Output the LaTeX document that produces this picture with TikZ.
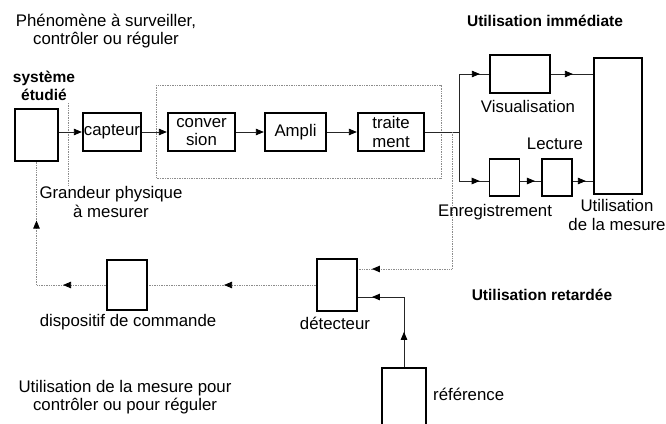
\documentclass[tikz,border=0pt]{standalone}
\usepackage{fontspec}
\setmainfont{Liberation Sans}
\usetikzlibrary{arrows.meta,decorations.markings}
\tikzset{
  >={Triangle[length=8pt,width=6.5pt,color=black]},
  box/.style={draw, line width=2.3pt, inner sep=0pt, align=center},
  tbox/.style={draw, line width=1.6pt, inner sep=0pt},
  lbl/.style={align=center, inner sep=0pt},
  bfl/.style={font=\fontsize{15.5}{18}\selectfont\bfseries},
  conn/.style={line width=0.8pt, draw=black!85},
  dotl/.style={line width=0.8pt, draw=black!45, dash pattern=on 0.8pt off 0.9pt},
  tipat/.style={postaction={decorate}, decoration={markings, mark=at position #1 with {\arrow{>}}}},
  every node/.style={font=\fontsize{16.8}{18.5}\selectfont}
}
\begin{document}
\begin{tikzpicture}[x=1pt,y=-1pt]
\useasboundingbox (0,0) rectangle (666,423);
\clip (0,0) rectangle (666,423);
\fill[white] (0,0) rectangle (666,423);

% boxes
\node[box, minimum width=43pt, minimum height=52pt] (sys) at (36.5,135) {};
\node[box, minimum width=58pt, minimum height=38pt] (capt) at (112,132) {capteur};
\node[box, minimum width=67pt, minimum height=38pt] (conv) at (201.5,132) {conver\\sion};
\node[box, minimum width=61pt, minimum height=38pt] (ampli) at (295.5,132) {Ampli};
\node[box, minimum width=66pt, minimum height=38pt] (trait) at (391,132) {traite\\ment};
\node[box, minimum width=60pt, minimum height=38pt] (vis) at (520,74) {};
\node[box, minimum width=48pt, minimum height=136pt] (util) at (618,126) {};
\node[tbox, minimum width=30pt, minimum height=37.5pt] (enr) at (504.5,177.5) {};
\node[tbox, minimum width=30.5pt, minimum height=37.5pt] (lect) at (557,177.5) {};
\node[tbox, line width=1.9pt, minimum width=40pt, minimum height=52pt] (det) at (337,285) {};
\node[tbox, line width=1.9pt, minimum width=40pt, minimum height=50pt] (disp) at (127,285) {};
\node[box, minimum width=44pt, minimum height=66pt] (ref) at (404,401) {};

% labels
\node[lbl] (phen) at (106,31) {Phénomène à surveiller,\\contrôler ou réguler};
\node[lbl, bfl] (syst) at (44,86) {système\\étudié};
\node[lbl] (grand) at (111,202) {Grandeur physique\\à mesurer};
\node[lbl] (visl) at (528,106) {Visualisation};
\node[lbl] (lecl) at (555,144) {Lecture};
\node[lbl] (enrl) at (495,212) {Enregistrement};
\node[lbl] (utill) at (617,215) {Utilisation\\de la mesure};
\node[lbl, bfl] (imm) at (545,21) {Utilisation immédiate};
\node[lbl, bfl] (ret) at (542,295) {Utilisation retardée};
\node[lbl] (displ) at (128,322) {dispositif de commande};
\node[lbl] (detl) at (335,323) {détecteur};
\node[lbl, anchor=west] (refl) at (433,394) {référence};
\node[lbl] (uml) at (125,397) {Utilisation de la mesure pour\\contrôler ou pour réguler};

% dotted frames
\draw[dotl] (156,85) rectangle (441,178);
\draw[dotl] (68,103) -- (68,185);

% coordinates
\coordinate (j) at (459,132);
\coordinate (jb) at (459,181);
\coordinate (jd) at (452,132);
\coordinate (dd) at (452,269);
\coordinate (rr) at (0,297);

% solid connectors
\draw[conn, ->] (sys.east |- capt.west) -- (capt.west);
\draw[conn, ->] (capt) -- (conv);
\draw[conn, ->] (conv) -- (ampli);
\draw[conn, ->] (ampli) -- (trait);
\draw[conn, tipat=-9pt] (trait.east) -- (j) |- (vis.west);
\draw[conn, tipat=-9pt] (j) -- (jb) -- (enr.west |- jb);
\draw[conn, tipat=-20pt] (vis.east) -- (util.west |- vis.east);
\draw[conn, tipat=-6pt] (enr.east |- jb) -- (lect.west |- jb);
\draw[conn, tipat=-7pt] (lect.east |- jb) -- (util.west |- jb);
\draw[conn, postaction={decorate}, decoration={markings,
    mark=at position 35pt with {\arrow{>}},
    mark=at position -14pt with {\arrow{>}}}]
  (ref.north) -- (ref.north |- rr) -- (det.east |- rr);

% dotted connectors
\draw[dotl, tipat=-14pt] (jd) -- (dd) -- (det.east |- dd);
\draw[dotl, tipat=92pt] (det.west) -- (disp.east);
\draw[dotl, postaction={decorate}, decoration={markings,
    mark=at position 43pt with {\arrow{>}},
    mark=at position 134pt with {\arrow{>}}}]
  (disp.west) -| (sys.south);
\end{tikzpicture}
\end{document}
